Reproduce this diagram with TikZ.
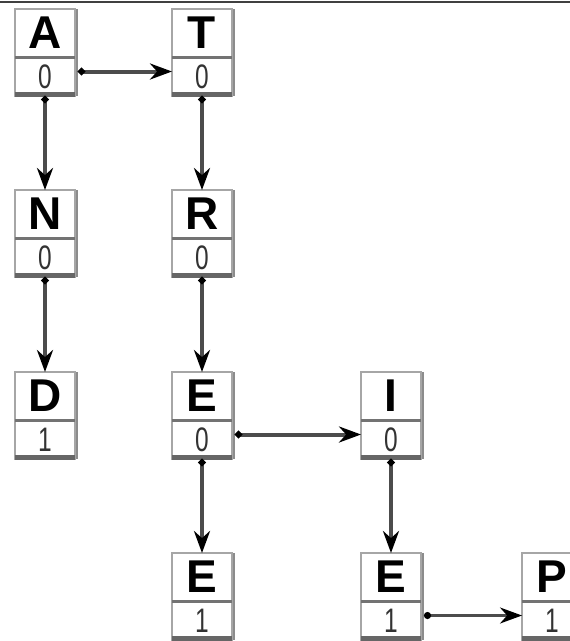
\documentclass[tikz,border=0pt]{standalone}
\usepackage{fontspec}
\setmainfont{Liberation Sans}
\usetikzlibrary{arrows.meta}

\tikzset{
  lettercell/.style={draw=black!35, line width=1.5pt, fill=white, outer sep=0pt,
    inner sep=0pt, minimum width=60pt, minimum height=48pt,
    font=\fontsize{46}{46}\selectfont\bfseries},
  digitcell/.style={draw=black!35, line width=1.5pt, fill=white, outer sep=0pt,
    inner sep=0pt, minimum width=60pt, minimum height=39pt, text=black!80,
    font=\fontsize{34}{34}\selectfont},
  sepline/.style={draw=black!55, line width=3pt},
  basebar/.style={draw=black!60, line width=5pt},
  sideline/.style={draw=black!45, line width=2.5pt},
  link/.style={draw=black!70, line width=4pt,
    {Circle[length=7pt,black]}-{Stealth[length=22pt,width=16pt,black]}},
  thinlink/.style={link, line width=2.5pt},
  rule/.style={draw=black!75, line width=2pt}
}

% one trie node: name, left x, top y, letter, counter
\newcommand\trienode[5]{%
  \node[lettercell, anchor=north west] (#1) at (#2,#3) {#4};
  \node[digitcell, anchor=north] (#1-v) at (#1.south) {\scalebox{0.72}[1]{#5}};
  \draw[sepline] (#1.south west) -- (#1.south east);
  \draw[basebar] ([yshift=2pt]#1-v.south west) -- ([yshift=2pt]#1-v.south east);
  \draw[sideline] ([xshift=2pt]#1.north east) -- ([xshift=2pt]#1-v.south east);
}

\begin{document}
\begin{tikzpicture}[x=1pt,y=-1pt]
  \useasboundingbox (0,0) rectangle (570,641);
  \draw[rule] (0,1.5) -- (570,1.5);

  \trienode{A}{15}{9}{A}{0}
  \trienode{T}{172}{9}{T}{0}
  \trienode{N}{15}{190}{N}{0}
  \trienode{R}{172}{190}{R}{0}
  \trienode{D}{15}{372}{D}{1}
  \trienode{E1}{172}{372}{E}{0}
  \trienode{I}{361}{372}{I}{0}
  \trienode{E2}{172}{553}{E}{1}
  \trienode{E3}{361}{553}{E}{1}
  \trienode{P}{522}{553}{P}{1}

  % child links
  \draw[link] (A-v.south) -- (N.north);
  \draw[link] (N-v.south) -- (D.north);
  \draw[link] (T-v.south) -- (R.north);
  \draw[link] (R-v.south) -- (E1.north);
  \draw[link] (E1-v.south) -- (E2.north);
  \draw[link] (I-v.south) -- (E3.north);

  % sibling links
  \draw[link] ([xshift=3pt,yshift=5pt]A-v.east) -- ([yshift=5pt]T-v.west);
  \draw[link] ([xshift=3pt,yshift=5pt]E1-v.east) -- ([yshift=5pt]I-v.west);
  \draw[thinlink] ([xshift=3pt,yshift=5pt]E3-v.east) -- ([yshift=5pt]P-v.west);
\end{tikzpicture}
\end{document}
